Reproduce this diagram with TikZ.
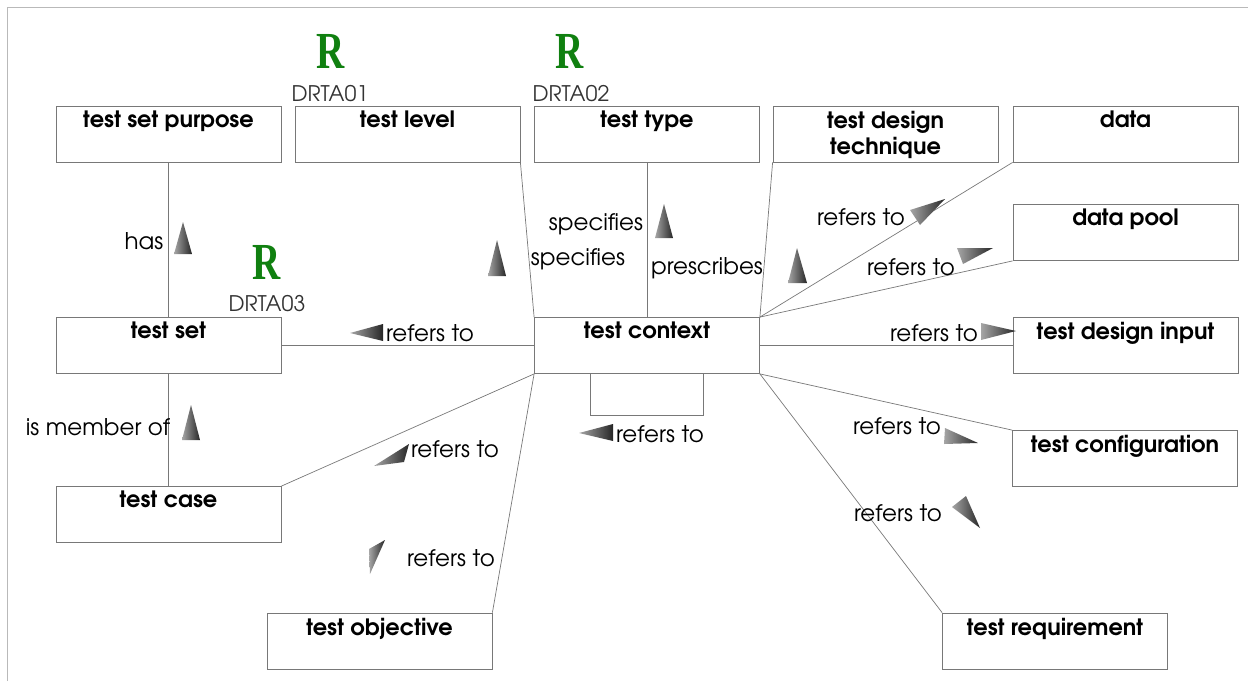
\documentclass[tikz,border=0pt]{standalone}
\usepackage{fontspec}
\setmainfont{TeX Gyre Adventor}
\newfontfamily\rfont{Liberation Serif}
\definecolor{rgreen}{RGB}{16,128,16}
\definecolor{linegray}{RGB}{120,120,120}
\definecolor{framegray}{RGB}{185,185,185}

\begin{document}
\begin{tikzpicture}[x=1pt,y=-1pt,
		box/.style={draw=linegray, line width=0.8pt, minimum width=225pt, minimum height=56pt, inner sep=0pt},
		title/.style={anchor=north, font=\fontsize{22.5}{26}\selectfont\bfseries, inner sep=0pt, yshift=-5pt, align=center},
		lbl/.style={font=\fontsize{23}{26}\selectfont, inner sep=0pt},
		link/.style={draw=linegray, line width=0.7pt},
		tip/.style={left color=gray!70, right color=black!85},
		rmark/.style={font=\rfont\bfseries\fontsize{52}{52}\selectfont, text=rgreen, inner sep=0pt},
		code/.style={font=\fontsize{21.5}{24}\selectfont, text=black!80, inner sep=0pt}]
		\useasboundingbox (0,0) rectangle (1248,681);
		%frame
		\draw[framegray, line width=1pt] (7,681) -- (7,7) -- (1248,7);
		
		%boxes
		\node[box, label={[title]north:test set purpose}] (purpose) at (168.5,134) {};
		\node[box, label={[title]north:test level}] (level) at (407.5,134) {};
		\node[box, label={[title]north:test type}] (type) at (647,134) {};
		\node[box, label={[title]north:test design\\technique}] (technique) at (885.5,134) {};
		\node[box, label={[title]north:data}] (data) at (1125.5,134) {};
		\node[box, label={[title]north:data pool}] (pool) at (1125.5,232.5) {};
		\node[box, label={[title]north:test design input}] (input) at (1125.5,345.5) {};
		\node[box, label={[title]north:test configuration}] (config) at (1125,458.5) {};
		\node[box, label={[title]north:test requirement}] (requirement) at (1055,641) {};
		\node[box, label={[title]north:test objective}] (objective) at (379.5,641) {};
		\node[box, label={[title]north:test case}] (case) at (168.5,514.5) {};
		\node[box, label={[title]north:test set}] (set) at (168.5,345.5) {};
		\node[box, label={[title]north:test context}] (context) at (647,345.5) {};
		
		%links
		\draw[link] (purpose.south) -- (set.north);
		\draw[link] (set.south) -- (case.north);
		\draw[link] (set.east) -- (context.west);
		\draw[link] (level.south east) -- (context.north west);
		\draw[link] (type.south) -- (context.north);
		\draw[link] (technique.south west) -- (context.north east);
		\draw[link] (data.south west) -- (context.north east);
		\draw[link] (pool.south west) -- (context.north east);
		\draw[link] (context.east) -- (input.west);
		\draw[link] (context.south east) -- (config.north west);
		\draw[link] (context.south east) -- (requirement.north west);
		\draw[link] (context.south west) -- (case.north east);
		\draw[link] (context.south west) -- (objective.north east);
		\draw[link] ([xshift=-57pt]context.south) -- ++(0,41) -| ([xshift=56pt]context.south);
		
		%link labels
		\node[lbl] (has) at (144,241) {has};
		\node[lbl] (member) at (98,427) {is member of};
		\node[lbl] (refset) at (430,333) {refers to};
		\node[lbl] (spectype) at (596,224) {specifies};
		\node[lbl] (speclevel) at (578,259) {specifies};
		\node[lbl] (prescribes) at (707,268) {prescribes};
		\node[lbl] (refdata) at (861,217) {refers to};
		\node[lbl] (refpool) at (911,267) {refers to};
		\node[lbl] (refinput) at (934,333) {refers to};
		\node[lbl] (refconfig) at (897,426) {refers to};
		\node[lbl] (refreq) at (898,513) {refers to};
		\node[lbl] (refself) at (660,434) {refers to};
		\node[lbl] (refcase) at (455,449) {refers to};
		\node[lbl] (refobj) at (451,558) {refers to};
		
		%direction marks
		\shade[tip] (174,254) -- (192,254) -- (183,222) -- cycle;
		\shade[tip] (182,440) -- (200,440) -- (191,405) -- cycle;
		\shade[tip] (488,276) -- (506,276) -- (497,240) -- cycle;
		\shade[tip] (655,238) -- (673,238) -- (664,204) -- cycle;
		\shade[tip] (788,283) -- (807,283) -- (797,248) -- cycle;
		\shade[tip] (910,210) -- (920,225) -- (945,199) -- cycle;
		\shade[tip] (957,248) -- (963,264) -- (993,248) -- cycle;
		\shade[tip] (981,323) -- (981,340) -- (1016,331) -- cycle;
		\shade[tip] (945,428) -- (944,444) -- (978,443) -- cycle;
		\shade[tip] (966,496) -- (952,507) -- (980,528) -- cycle;
		\shade[tip] (383,324) -- (383,341) -- (350,333) -- cycle;
		\shade[tip] (613,424) -- (613,441) -- (579,433) -- cycle;
		\shade[tip] (409,444) -- (404,462) -- (374,466) -- cycle;
		\shade[tip] (369,549) -- (385,540) -- (370,574) -- cycle;
		
		%R marks
		\node[rmark] (r1) at (331,51) {\scalebox{0.75}[1]{R}};
		\node[code] (drta1) at (330,94) {DRTA01};
		\node[rmark] (r2) at (570,51) {\scalebox{0.75}[1]{R}};
		\node[code] (drta2) at (571,94) {DRTA02};
		\node[rmark] (r3) at (267,262) {\scalebox{0.75}[1]{R}};
		\node[code] (drta3) at (267,304) {DRTA03};
\end{tikzpicture}
\end{document}
